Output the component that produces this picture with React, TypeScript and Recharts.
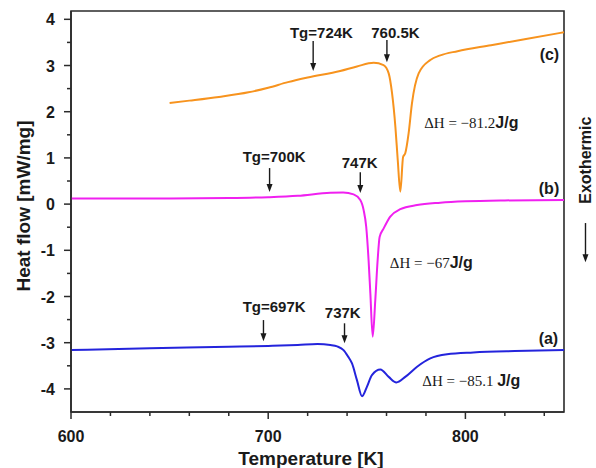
import { Label, Line, LineChart, ReferenceArea, ReferenceDot, ReferenceLine, XAxis, YAxis } from 'recharts';

// curve (c) – orange
const tempC = [650, 660, 675, 690, 700, 710, 720, 736.5, 745, 753.5, 758.5, 761.1, 762.8, 764.5, 765.7, 767, 768.4, 769.5, 771.2, 772.9, 776.3, 782.2, 787.3, 796, 813, 830, 850];
const flowC = [2.19, 2.24, 2.32, 2.42, 2.52, 2.64, 2.74, 2.88, 2.98, 3.06, 3.01, 2.83, 2.4, 1.67, 0.95, 0.27, 1.02, 1.1, 1.53, 2.18, 2.83, 3.12, 3.22, 3.31, 3.44, 3.57, 3.72];

// curve (b) – magenta
const tempB = [600, 650, 680, 700, 715, 731.5, 738, 743.3, 746.7, 748.4, 749.7, 750.9, 751.8, 753, 754.3, 755.5, 756.5, 758.5, 761.9, 767, 775.5, 787.3, 800, 820, 850];
const flowB = [0.12, 0.12, 0.13, 0.15, 0.18, 0.245, 0.25, 0.21, 0.09, -0.13, -0.49, -1.21, -1.93, -2.87, -2.08, -1.21, -0.71, -0.53, -0.27, -0.11, -0.02, 0.03, 0.06, 0.08, 0.09];

// curve (a) – blue
const tempA = [600, 640, 680, 700, 715, 725, 731.5, 735, 738.2, 740.5, 742.5, 745, 747.6, 750.1, 752.6, 756.9, 761.1, 765, 769.5, 775.5, 782.2, 790.7, 804, 825, 850];
const flowA = [-3.16, -3.12, -3.09, -3.07, -3.05, -3.03, -3.05, -3.08, -3.16, -3.3, -3.45, -3.81, -4.16, -3.95, -3.7, -3.58, -3.74, -3.86, -3.74, -3.52, -3.34, -3.25, -3.21, -3.18, -3.16];

const xTicks = [600, 620, 640, 660, 680, 700, 720, 740, 760, 780, 800, 820, 840];
const yTicks = [-4, -3.5, -3, -2.5, -2, -1.5, -1, -0.5, 0, 0.5, 1, 1.5, 2, 2.5, 3, 3.5, 4];

const curveC = tempC.map((t, i) => ({ t, v: flowC[i] }));
const curveB = tempB.map((t, i) => ({ t, v: flowB[i] }));
const curveA = tempA.map((t, i) => ({ t, v: flowA[i] }));

const labels = [
  { x: 727, y: 3.59, text: 'Tg=724K' },
  { x: 764.5, y: 3.59, text: '760.5K' },
  { x: 703, y: 0.91, text: 'Tg=700K' },
  { x: 746.4, y: 0.78, text: '747K' },
  { x: 703, y: -2.34, text: 'Tg=697K' },
  { x: 737.8, y: -2.47, text: '737K' },
];
const tags = [
  { x: 842.6, y: 3.12, text: '(c)' },
  { x: 842.4, y: 0.22, text: '(b)' },
  { x: 842.1, y: -3.03, text: '(a)' },
];
const enthalpy = [
  { x: 803, y: 1.65, value: '\u221281.2', gap: '' },
  { x: 782.7, y: -1.39, value: '\u221267', gap: '' },
  { x: 803, y: -3.94, value: '\u221285.1', gap: ' ' },
];
const arrows = [
  { x: 722.8, y1: 3.53, y2: 2.88 },
  { x: 760.2, y1: 3.55, y2: 3.07 },
  { x: 700.7, y1: 0.78, y2: 0.26 },
  { x: 746.7, y1: 0.69, y2: 0.24 },
  { x: 697.6, y1: -2.51, y2: -2.97 },
  { x: 738.7, y1: -2.58, y2: -3.01 },
  { x: 860.9, y1: -0.41, y2: -1.26 },
];

const SANS = '"Liberation Sans", Arial, sans-serif';
const SERIF = '"Liberation Serif", "Times New Roman", serif';
const INK = '#1a1a1a';
const AX = '#2b2b2b';

function XTick(props: any) {
  const { x, y, payload } = props;
  const major = payload.value % 100 === 0;
  return (
    <g>
      <line x1={x} x2={x} y1={y} y2={y + (major ? 7 : 4)} stroke={AX} strokeWidth={1.5} />
      {major && (
        <text x={x} y={y + 30} textAnchor="middle" fontFamily={SANS} fontWeight="bold" fontSize={16} fill={INK}>
          {payload.value}
        </text>
      )}
    </g>
  );
}

function YTick(props: any) {
  const { x, y, payload } = props;
  const major = Number.isInteger(payload.value);
  return (
    <g>
      <line x1={x} x2={x - (major ? 7 : 4)} y1={y} y2={y} stroke={AX} strokeWidth={1.5} />
      {major && (
        <text x={x - 16} y={y + 6} textAnchor="end" fontFamily={SANS} fontWeight="bold" fontSize={16} fill={INK}>
          {payload.value}
        </text>
      )}
    </g>
  );
}

function Arrow(props: any) {
  const { x1, y1, x2, y2 } = props;
  return (
    <g>
      <line x1={x1} y1={y1} x2={x2} y2={y2 - 6} stroke={INK} strokeWidth={1.4} />
      <path d={`M${x2 - 3},${y2 - 8} L${x2 + 3},${y2 - 8} L${x2},${y2} Z`} fill={INK} />
    </g>
  );
}

export default function App() {
  return (
    <div style={{ position: 'absolute', left: 0, top: 0 }}>
      <LineChart width={596} height={468} margin={{ top: 11, right: 32, left: 0, bottom: 0 }}>
        <XAxis
          dataKey="t"
          type="number"
          domain={[600, 850]}
          ticks={xTicks}
          interval={0}
          allowDataOverflow
          height={56}
          tickSize={0}
          tickMargin={0}
          tickLine={false}
          axisLine={{ stroke: AX, strokeWidth: 1.6 }}
          tick={(p: any) => <XTick {...p} />}
        >
          <Label
            content={() => (
              <text x={311} y={465} textAnchor="middle" fontFamily={SANS} fontWeight="bold" fontSize={19} fill={INK}>
                Temperature [K]
              </text>
            )}
          />
        </XAxis>
        <YAxis
          type="number"
          domain={[-4.5, 4.18]}
          ticks={yTicks}
          interval={0}
          allowDataOverflow
          width={71}
          tickSize={0}
          tickMargin={0}
          tickLine={false}
          axisLine={{ stroke: AX, strokeWidth: 1.6 }}
          tick={(p: any) => <YTick {...p} />}
        >
          <Label
            content={() => (
              <text
                x={30}
                y={206}
                transform="rotate(-90, 30, 206)"
                textAnchor="middle"
                fontFamily={SANS}
                fontWeight="bold"
                fontSize={19}
                fill={INK}
              >
                Heat flow [mW/mg]
              </text>
            )}
          />
        </YAxis>
        <ReferenceArea x1={600} x2={850} y1={-4.5} y2={4.18} fill="none" stroke={AX} strokeWidth={1.6} ifOverflow="visible" />

        <Line data={curveC} dataKey="v" type="monotone" stroke="#F7931E" strokeWidth={2} dot={false} isAnimationActive={false} />
        <Line data={curveB} dataKey="v" type="monotone" stroke="#F020F0" strokeWidth={2} dot={false} isAnimationActive={false} />
        <Line data={curveA} dataKey="v" type="monotone" stroke="#2424DC" strokeWidth={2} dot={false} isAnimationActive={false} />

        {arrows.map((a, i) => (
          <ReferenceLine
            key={'ar' + i}
            segment={[{ x: a.x, y: a.y1 }, { x: a.x, y: a.y2 }]}
            ifOverflow="visible"
            shape={(p: any) => <Arrow {...p} />}
          />
        ))}
        {labels.map((l, i) => (
          <ReferenceDot
            key={'lb' + i}
            x={l.x}
            y={l.y}
            ifOverflow="visible"
            shape={(p: any) => (
              <text x={p.cx} y={p.cy} textAnchor="middle" fontFamily={SANS} fontWeight="bold" fontSize={15} fill={INK}>
                {l.text}
              </text>
            )}
          />
        ))}
        {tags.map((l, i) => (
          <ReferenceDot
            key={'tg' + i}
            x={l.x}
            y={l.y}
            ifOverflow="visible"
            shape={(p: any) => (
              <text x={p.cx} y={p.cy} textAnchor="middle" fontFamily={SANS} fontWeight="bold" fontSize={16} fill={INK}>
                {l.text}
              </text>
            )}
          />
        ))}
        {enthalpy.map((e, i) => (
          <ReferenceDot
            key={'dh' + i}
            x={e.x}
            y={e.y}
            ifOverflow="visible"
            shape={(p: any) => (
              <text x={p.cx} y={p.cy} textAnchor="middle" fill={INK}>
                <tspan fontFamily={SERIF} fontSize={15}>{`\u0394H = ${e.value}${e.gap}`}</tspan>
                <tspan fontFamily={SANS} fontWeight="bold" fontSize={16}>J/g</tspan>
              </text>
            )}
          />
        ))}
        <ReferenceDot
          x={860.9}
          y={0.95}
          ifOverflow="visible"
          shape={(p: any) => (
            <text
              x={p.cx + 6}
              y={p.cy}
              transform={`rotate(-90, ${p.cx + 6}, ${p.cy})`}
              textAnchor="middle"
              fontFamily={SANS}
              fontWeight="bold"
              fontSize={16}
              fill={INK}
            >
              Exothermic
            </text>
          )}
        />
      </LineChart>
    </div>
  );
}
